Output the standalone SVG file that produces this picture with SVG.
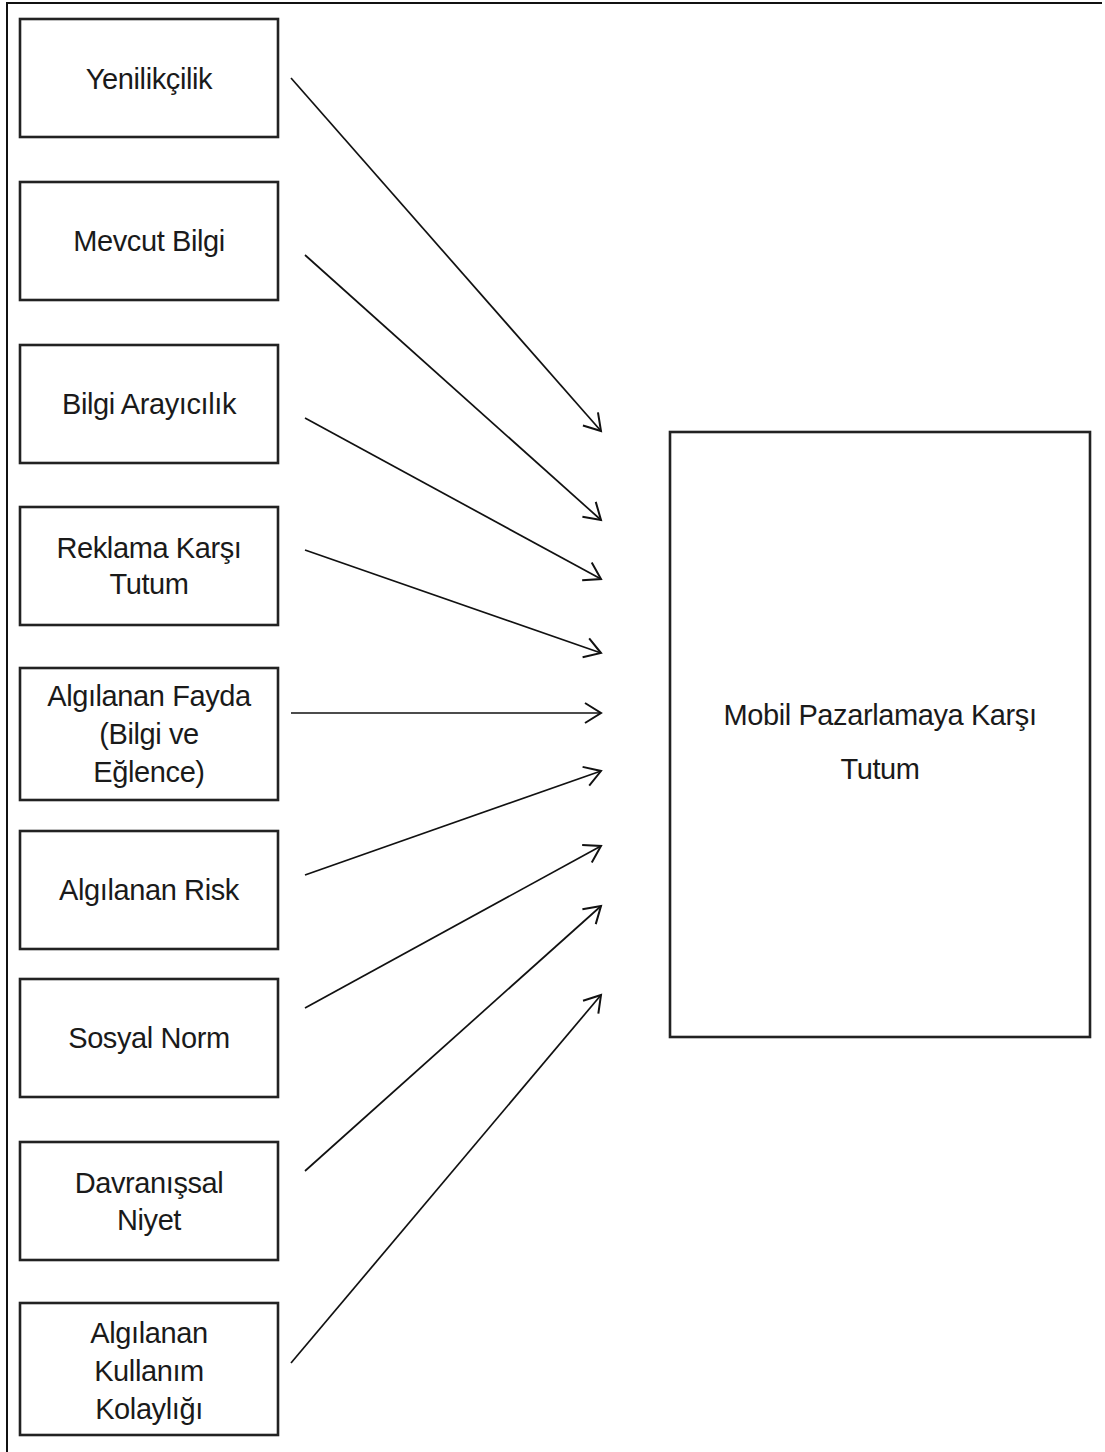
<svg xmlns="http://www.w3.org/2000/svg" width="1105" height="1452" viewBox="0 0 1105 1452">
<style>
.box{fill:#fff;stroke:#222;stroke-width:2.6}
.lbl{font-family:"Liberation Sans",Arial,sans-serif;font-size:29px;fill:#1a1a1a;text-anchor:middle;letter-spacing:-0.4px}
.con{stroke:#111;stroke-width:1.7;fill:none;marker-end:url(#arr)}
.frame{stroke:#111;stroke-width:2;fill:none}
</style>
<defs>
<marker id="arr" markerUnits="userSpaceOnUse" markerWidth="24" markerHeight="24" viewBox="-18 -12 20 24" refX="0" refY="0" orient="auto">
<path d="M-16,-10 L0,0 L-16,10" fill="none" stroke="#111" stroke-width="2"/>
</marker>
</defs>
<rect width="1105" height="1452" fill="#fff"/>
<path class="frame" d="M7,1452 V3 H1102"/>
<g id="n1"><rect class="box" x="20" y="19" width="258" height="118"/><text class="lbl" x="149" y="89">Yenilikçilik</text></g>
<g id="n2"><rect class="box" x="20" y="182" width="258" height="118"/><text class="lbl" x="149" y="251">Mevcut Bilgi</text></g>
<g id="n3"><rect class="box" x="20" y="345" width="258" height="118"/><text class="lbl" x="149" y="414">Bilgi Arayıcılık</text></g>
<g id="n4"><rect class="box" x="20" y="507" width="258" height="118"/><text class="lbl" x="149" y="558">Reklama Karşı</text><text class="lbl" x="149" y="594">Tutum</text></g>
<g id="n5"><rect class="box" x="20" y="668" width="258" height="132"/><text class="lbl" x="149" y="706">Algılanan Fayda</text><text class="lbl" x="149" y="744">(Bilgi ve</text><text class="lbl" x="149" y="782">Eğlence)</text></g>
<g id="n6"><rect class="box" x="20" y="831" width="258" height="118"/><text class="lbl" x="149" y="900">Algılanan Risk</text></g>
<g id="n7"><rect class="box" x="20" y="979" width="258" height="118"/><text class="lbl" x="149" y="1048">Sosyal Norm</text></g>
<g id="n8"><rect class="box" x="20" y="1142" width="258" height="118"/><text class="lbl" x="149" y="1193">Davranışsal</text><text class="lbl" x="149" y="1230">Niyet</text></g>
<g id="n9"><rect class="box" x="20" y="1303" width="258" height="132"/><text class="lbl" x="149" y="1343">Algılanan</text><text class="lbl" x="149" y="1381">Kullanım</text><text class="lbl" x="149" y="1419">Kolaylığı</text></g>
<g id="target"><rect class="box" x="670" y="432" width="420" height="605"/><text class="lbl" x="880" y="725">Mobil Pazarlamaya Karşı</text><text class="lbl" x="880" y="779">Tutum</text></g>
<g id="connectors">
<line class="con" x1="291" y1="78" x2="601" y2="431"/>
<line class="con" x1="305" y1="255" x2="601" y2="520"/>
<line class="con" x1="305" y1="418" x2="601" y2="579"/>
<line class="con" x1="305" y1="550" x2="601" y2="653"/>
<line class="con" x1="291" y1="713" x2="601" y2="713"/>
<line class="con" x1="305" y1="875" x2="601" y2="771"/>
<line class="con" x1="305" y1="1008" x2="601" y2="846"/>
<line class="con" x1="305" y1="1171" x2="601" y2="906"/>
<line class="con" x1="291" y1="1363" x2="601" y2="995"/>
</g>
</svg>
